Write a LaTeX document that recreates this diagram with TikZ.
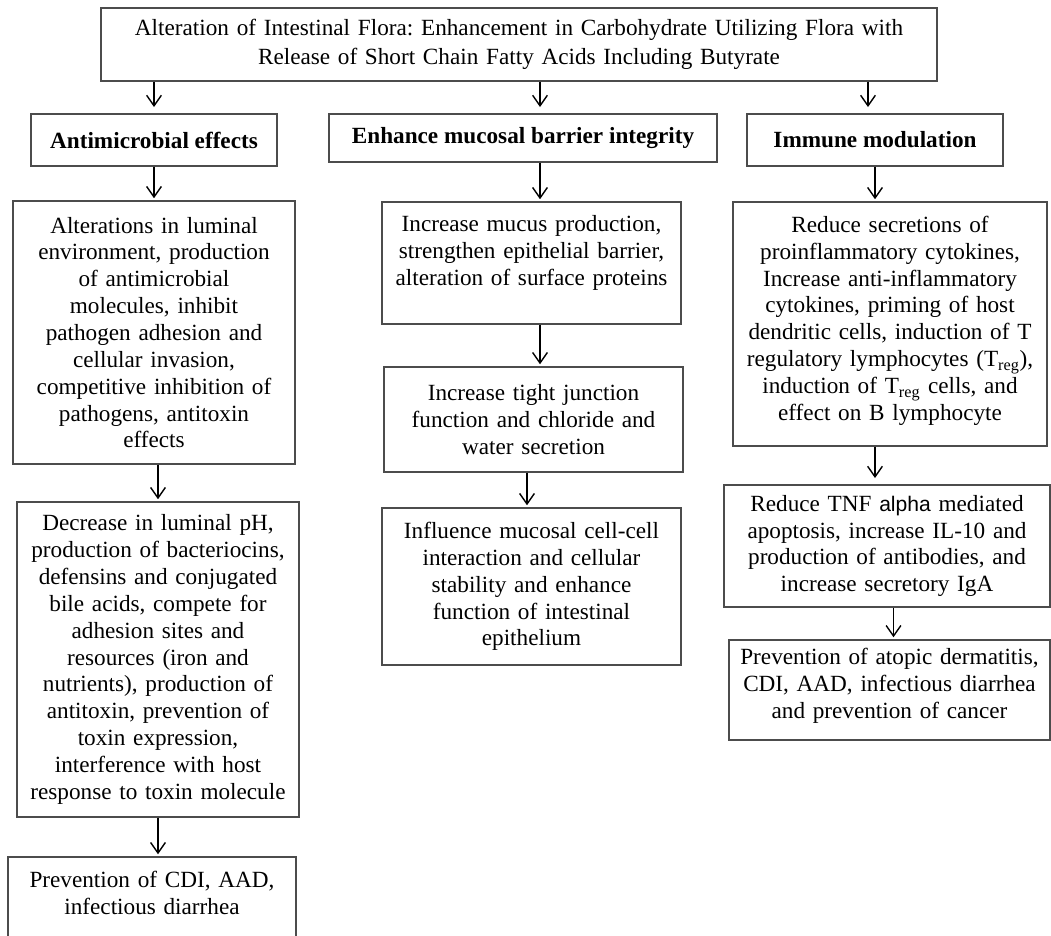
\documentclass[tikz,border=0pt]{standalone}
\usepackage{fontspec}
\setmainfont{Liberation Serif}
\setsansfont{Liberation Sans}
\usetikzlibrary{arrows.meta,calc}
\frenchspacing

\begin{document}
\begin{tikzpicture}[x=0.025cm,y=-0.025cm,
	box/.style={draw=black!70,line width=0.9pt,align=center,inner sep=0pt,
		font=\fontsize{16.5}{19.1}\selectfont},
	head/.style={box,font=\fontsize{16.5}{19.1}\selectfont\bfseries},
	arr/.style={-{Straight Barb[length=7.5pt,width=10.5pt]},line width=1pt,shorten >=1.5pt}]
	\useasboundingbox (0,0) rectangle (1051,935);
	\clip (0,0) rectangle (1051,935);
	\fill[white] (0,0) rectangle (1051,935);

	\node[box,minimum width=20.9cm,minimum height=1.825cm,text width=20.4cm,
		font=\fontsize{16.5}{21}\selectfont] (top) at (519,44.5)
		{Alteration of Intestinal Flora: Enhancement in Carbohydrate Utilizing Flora with\\
		Release of Short Chain Fatty Acids Including Butyrate};

	\node[head,minimum width=6.15cm,minimum height=1.3cm] (anti) at (154,140) {Antimicrobial effects};
	\node[head,minimum width=9.7cm,minimum height=1.2cm] (enh) at (523,138) {Enhance mucosal barrier integrity};
	\node[head,minimum width=6.4cm,minimum height=1.3cm] (imm) at (875,140) {Immune modulation};

	\node[box,minimum width=7.05cm,minimum height=6.575cm,text width=6.9cm] (alt) at (154,332.5)
		{Alterations in luminal\\environment, production\\of antimicrobial\\molecules, inhibit\\
		pathogen adhesion and\\cellular invasion,\\competitive inhibition of\\pathogens, antitoxin\\effects};
	\node[box,minimum width=7.05cm,minimum height=7.875cm,text width=6.9cm] (dec) at (158,659.5)
		{Decrease in luminal pH,\\production of bacteriocins,\\defensins and conjugated\\bile acids, compete for\\
		adhesion sites and\\resources (iron and\\nutrients), production of\\antitoxin, prevention of\\
		toxin expression,\\interference with host\\response to toxin molecule};
	\node[box,minimum width=7.2cm,minimum height=2.45cm,text width=7cm,text depth=38pt] (cdi) at (152,906)
		{Prevention of CDI, AAD,\\infectious diarrhea};

	\node[box,minimum width=7.475cm,minimum height=3.05cm,text width=7.3cm,text depth=56pt] (mucus) at (531.5,263)
		{Increase mucus production,\\strengthen epithelial barrier,\\alteration of surface proteins};
	\node[box,minimum width=7.475cm,minimum height=2.625cm,text width=7.3cm] (tight) at (533.5,419.5)
		{Increase tight junction\\function and chloride and\\water secretion};
	\node[box,minimum width=7.475cm,minimum height=3.925cm,text width=7.3cm] (infl) at (531.5,586.5)
		{Influence mucosal cell-cell\\interaction and cellular\\stability and enhance\\function of intestinal\\epithelium};

	\node[box,minimum width=7.85cm,minimum height=6.1cm,text width=7.7cm,text depth=142pt] (immtext) at (890,324)
		{Reduce secretions of\\proinflammatory cytokines,\\Increase anti-inflammatory\\cytokines, priming of host\\
		dendritic cells, induction of T\\regulatory lymphocytes (T\textsubscript{reg}),\\
		induction of T\textsubscript{reg} cells, and\\effect on B lymphocyte};
	\node[box,minimum width=8.15cm,minimum height=3.05cm,text width=8cm] (tnf) at (887,546)
		{Reduce TNF {\sffamily\fontsize{15}{19.1}\selectfont alpha} mediated\\apoptosis, increase IL-10 and\\
		production of antibodies, and\\increase secretory IgA};
	\node[box,minimum width=8.025cm,minimum height=2.5cm,text width=7.9cm,text depth=48pt] (prev) at (889.5,690)
		{Prevention of atopic dermatitis,\\CDI, AAD, infectious diarrhea\\and prevention of cancer};

	\draw[arr,shorten >=4.5pt] (top.south -| anti.north) -- (anti.north);
	\draw[arr,shorten >=4.5pt] ($(top.south -| enh.north)+(17,0)$) -- ($(enh.north)+(17,0)$);
	\draw[arr,shorten >=4.5pt] ($(top.south -| imm.north)+(-7,0)$) -- ($(imm.north)+(-7,0)$);

	\draw[arr] (anti.south) -- (anti.south |- alt.north);
	\draw[arr] (alt.south -| dec.north) -- (dec.north);
	\draw[arr] (dec.south) -- (dec.south |- cdi.north);

	\draw[arr] ($(enh.south)+(17,0)$) -- ($(enh.south |- mucus.north)+(17,0)$);
	\draw[arr] ($(mucus.south)+(8.5,0)$) -- ($(mucus.south |- tight.north)+(8.5,0)$);
	\draw[arr] ($(tight.south)+(-6.5,0)$) -- ($(tight.south |- infl.north)+(-6.5,0)$);

	\draw[arr] (imm.south) -- (imm.south |- immtext.north);
	\draw[arr,shorten >=4.5pt] (immtext.south -| imm.south) -- (tnf.north -| imm.south);
	\draw[arr] ($(tnf.south)+(6.5,0)$) -- ($(tnf.south |- prev.north)+(6.5,0)$);
\end{tikzpicture}
\end{document}
